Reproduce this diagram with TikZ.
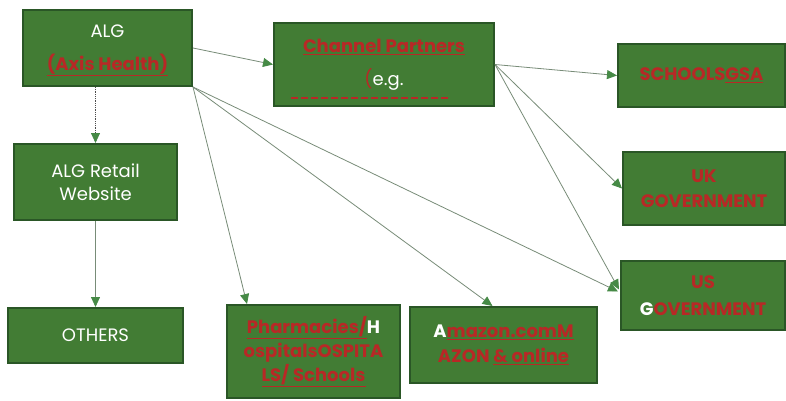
\documentclass[tikz,border=0pt]{standalone}
\usepackage{fontspec}
\setmainfont{Poppins}
\usetikzlibrary{arrows.meta,calc}
\definecolor{boxgreen}{RGB}{66,124,52}
\definecolor{boxedge}{RGB}{42,86,38}
\definecolor{txtred}{RGB}{184,40,38}
\definecolor{linegray}{RGB}{120,140,120}
\definecolor{tipgreen}{RGB}{70,138,70}
\newcommand{\rd}[1]{{\color{txtred}\bfseries #1}}
\newcommand{\ru}[1]{{\color{txtred}\bfseries\underline{#1}}}
\begin{document}
\begin{tikzpicture}[x=1pt,y=-1pt,
  gbox/.style={rectangle, draw=boxedge, line width=2pt, fill=boxgreen,
    text=white, align=center, inner sep=0pt, font=\fontsize{18}{25}\selectfont},
  conn/.style={draw=linegray, line width=0.8pt,
    -{Triangle[length=10pt,width=9pt,fill=tipgreen,color=tipgreen]}},
  dotconn/.style={conn, draw=black!70, densely dotted}]
\fill[white] (0,0) rectangle (786,401);
\useasboundingbox (0,0) rectangle (786,401);

\node[gbox, minimum width=169pt, minimum height=76pt] (alg) at (107.5,48)
  {\vphantom{(}ALG\\[8pt]\ru{(Axis Health)}};
\node[gbox, minimum width=220pt, minimum height=83pt] (chan) at (384,64.5)
  {\ru{Channel Partners}\\[8pt]{\color{txtred}(}e.g.};
\node[gbox, minimum width=167pt, minimum height=63pt] (sch) at (701.5,75.5)
  {\rd{SCHOOLS\underline{GSA}}};
\node[gbox, minimum width=162pt, minimum height=73pt] (uk) at (704,188.5)
  {\rd{UK}\\\rd{GOVERNMENT}};
\node[gbox, minimum width=164pt, minimum height=69pt] (us) at (703,295.5)
  {\rd{US}\\[2pt]{\bfseries G}\rd{OVERNMENT}};
\node[gbox, minimum width=163pt, minimum height=76pt] (ret) at (95.5,182)
  {ALG Retail\\[-2pt]Website};
\node[gbox, minimum width=175pt, minimum height=55pt] (oth) at (95.5,335.5)
  {OTHERS};
\node[gbox, minimum width=173pt, minimum height=93pt] (pha) at (313.5,351.5)
  {\ru{Pharmacies/}{\bfseries H}\\[-1pt]\rd{ospitalsOSPITA}\\[-1pt]\ru{LS/ Schools}};
\node[gbox, minimum width=187pt, minimum height=76pt] (amz) at (503.5,345)
  {{\bfseries A}\ru{mazon.comM}\\\rd{AZON }\ru{\& online}};

% cut-off third line of the channel partners box
\draw[txtred, line width=1.6pt, dash pattern=on 7pt off 3pt]
  ($(chan.south west)+(18,-9)$) -- ($(chan.south west)+(176,-9)$);

\draw[conn] (alg.east) -- (chan.west);
\draw[dotconn] (ret.north |- alg.south) -- (ret.north);
\draw[conn] (ret.south) -- (oth.north);
\draw[conn] (alg.south east) -- ($(pha.north west)+(21,0)$);
\draw[conn] (alg.south east) -- ($(amz.north)+(-11,0)$);
\draw[conn] (alg.south east) -- ($(us.west)+(-2,-4)$);
\draw[conn] (chan.east) -- (sch.west);
\draw[conn] (chan.east) -- (uk.west);
\draw[conn] (chan.east) -- ($(us.west)+(-1,-6)$);
\end{tikzpicture}
\end{document}
